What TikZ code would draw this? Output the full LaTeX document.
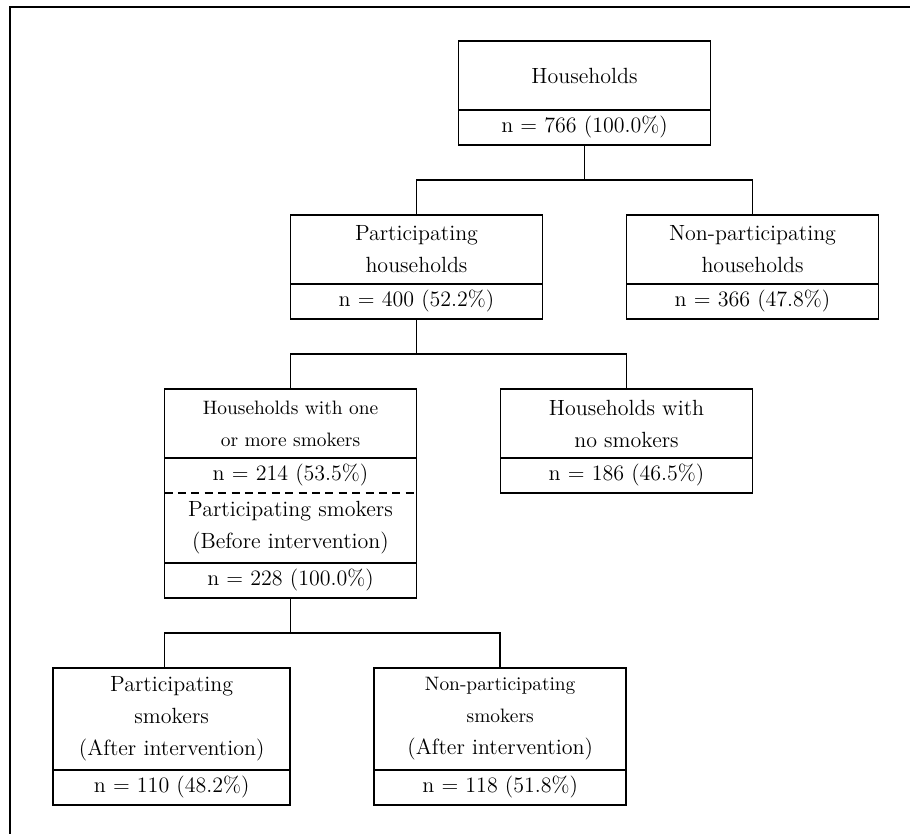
\documentclass[tikz,border=0pt]{standalone}
\usepackage{tikz}
\usetikzlibrary{positioning}

\newcommand{\smallf}{\fontsize{9.7}{16}\selectfont}

\tikzset{
  cell/.style={minimum width=126pt, inner sep=0pt, outer sep=0pt, align=center,
    font=\fontsize{11}{16}\selectfont},
  lbl/.style={cell, draw, minimum height=34.5pt},
  cnt/.style={cell, draw, minimum height=17.5pt},
  tall/.style={minimum height=51pt},
}

\begin{document}
\begin{tikzpicture}[x=0.5pt,y=-0.5pt,line width=0.8pt,node distance=35pt and 42pt]
        \useasboundingbox (0,0) rectangle (910,834);
        % Frame
        \draw (10,834) -- (10,7) -- (910,7);
        % Nodes
        \node[lbl] (hh) at (584.5,75.5) {Households};
        \node[cnt, below=0pt of hh] (hhn) {n = 766 (100.0\%)};
        \node[lbl, below=of hhn, xshift=-84pt] (ph) {Participating\\households};
        \node[cnt, below=0pt of ph] (phn) {n = 400 (52.2\%)};
        \node[lbl, right=of ph] (nph) {Non-participating\\households};
        \node[cnt, below=0pt of nph] (nphn) {n = 366 (47.8\%)};
        \node[cell, minimum height=34.5pt, below=of phn, xshift=-63pt] (sm) {\smallf Households with one\\\smallf or more smokers};
        \node[cell, minimum height=17.5pt, below=0pt of sm] (smn) {n = 214 (53.5\%)};
        \node[cell, minimum height=35pt, below=0pt of smn] (ps) {Participating smokers\\(Before intervention)};
        \node[cell, minimum height=17.5pt, below=0pt of ps] (psn) {n = 228 (100.0\%)};
        \node[lbl, right=of sm] (ns) {Households with\\no smokers};
        \node[cnt, below=0pt of ns] (nsn) {n = 186 (46.5\%)};
        \node[lbl, tall, minimum width=118.5pt, below=of psn, xshift=-59.4pt] (pa) {Participating\\smokers\\(After intervention)};
        \node[cnt, minimum width=118.5pt, below=0pt of pa] (pan) {n = 110 (48.2\%)};
        \node[lbl, tall, right=of pa] (npa) {\smallf Non-participating\\\smallf smokers\\(After intervention)};
        \node[cnt, below=0pt of npa] (npan) {n = 118 (51.8\%)};
        % Smokers box
        \draw (sm.north west) rectangle (psn.south east);
        \draw (sm.south west) -- (sm.south east);
        \draw[dash pattern=on 4pt off 2.7pt, line width=1pt] (smn.south west) -- (smn.south east);
        \draw (ps.south west) -- (ps.south east);
        % Edges
        \draw (hhn.south) -- ++(0,35);
        \draw (ph.north) -- ++(0,-35) -| (nph.north);
        \draw (phn.south) -- ++(0,35);
        \draw (sm.north) -- ++(0,-35) -| (ns.north);
        \draw (psn.south) -- ++(0,35);
        \draw (pa.north -| sm.west) -- ++(0,-35) -| (npa.north);
    \end{tikzpicture}
\end{document}
